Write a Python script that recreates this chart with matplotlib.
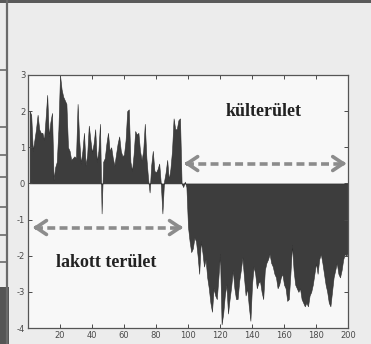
import numpy as np
import matplotlib
matplotlib.use('Agg')
import matplotlib.pyplot as plt
from matplotlib.patches import Rectangle
from matplotlib.lines import Line2D

plt.rcParams['axes.unicode_minus'] = False

# values, one per sample (x = 1..200)
pos_part = [2.0, 1.9, 0.9, 1.2, 1.5, 1.9, 1.5, 1.4, 1.4, 1.2,
            1.8, 2.45, 1.3, 1.7, 1.95, 0.1, 0.45, 0.6, 1.5, 3.0,
            2.6, 2.4, 2.3, 2.2, 1.0, 0.9, 0.65, 0.7, 0.75, 0.7,
            2.2, 1.2, 0.55, 0.9, 1.4, 0.5, 0.8, 1.6, 1.2, 0.85,
            1.1, 1.5, 0.6, 0.9, 1.65, -0.83, 0.6, 0.7, 1.1, 1.4,
            0.9, 1.0, 0.7, 0.5, 0.8, 1.1, 1.3, 0.9, 0.75, 0.8,
            1.2, 2.0, 2.05, 0.6, 0.35, 0.8, 1.45, 1.35, 1.4, 0.9,
            0.65, 0.9, 1.65, 0.7, 0.15, -0.25, 0.5, 0.9, 0.35, 0.3,
            0.4, 0.55, 0.0, -0.83, 0.05, 0.3, 0.65, 0.1, 0.4, 0.9,
            1.8, 1.5, 1.5, 1.75, 1.8, 0.0, -0.1, 0.05, -0.1]
neg_part = [-1.2, -1.6, -1.9, -1.8, -1.5, -1.6, -2.0, -2.5, -1.6, -1.9,
            -2.3, -2.1, -2.6, -2.9, -3.3, -3.55, -2.9, -3.1, -3.2, -2.6,
            -1.95, -3.9, -3.6, -3.1, -2.8, -3.6, -3.2, -2.85, -2.4, -2.9,
            -3.2, -3.2, -2.7, -2.4, -2.05, -2.6, -3.1, -2.9, -3.4, -3.8,
            -2.8, -2.3, -2.5, -2.9, -2.75, -2.7, -3.0, -3.2, -2.4, -2.2,
            -2.1, -1.95, -2.2, -2.3, -2.5, -2.6, -2.9, -2.8, -2.6, -2.5,
            -2.8, -2.9, -3.25, -3.2, -2.5, -1.7, -2.4, -2.8, -2.9, -3.0,
            -2.9, -3.2, -3.3, -3.4, -3.3, -3.4, -3.1, -3.0, -2.8, -2.5,
            -2.2, -2.5, -2.1, -1.95, -2.2, -2.5, -2.8, -3.0, -3.3, -3.4,
            -3.0, -2.6, -2.4, -2.2, -2.5, -2.6, -2.4, -2.1, -1.95, -2.0,
            -1.9]
values = np.array(pos_part + neg_part)
x = np.arange(1, len(values) + 1)

xticks = [20, 40, 60, 80, 100, 120, 140, 160, 180, 200]
yticks = [-4, -3, -2, -1, 0, 1, 2, 3]
label_outer = 'külterület'
label_inner = 'lakott terület'

fig = plt.figure(figsize=(3.71, 3.44), dpi=100, facecolor='#ececec')
ax = fig.add_axes([28 / 371, 16 / 344, 320 / 371, 253 / 344])
ax.set_facecolor('#f8f8f8')

ax.fill_between(x, 0, values, color='#3d3d3d', linewidth=0.4, edgecolor='#2e2e2e')

ax.set_xlim(0, 200)
ax.set_ylim(-4, 3)
ax.set_xticks(xticks)
ax.set_yticks(yticks)
ax.tick_params(direction='in', length=3, width=0.7, top=True, right=True,
               labelsize=6, colors='#4a4a4a', pad=2)
for s in ax.spines.values():
    s.set_color('#555555')
    s.set_linewidth(0.9)

# dashed double arrows: (left tip, right tip, height)
arrow_col = '#8c8c8c'
for x0, x1, yy in [(97.5, 199, 0.55), (3, 97, -1.22)]:
    ax.plot([x0 + 1.5, x1 - 1.5], [yy, yy], ls=(0, (2.2, 1.2)), lw=2.6, color=arrow_col)
    for tip, tail in [(x0, x0 + 3), (x1, x1 - 3)]:
        ax.annotate('', xy=(tip, yy), xytext=(tail, yy),
                    arrowprops=dict(arrowstyle='->,head_length=0.75,head_width=0.5',
                                    lw=2.6, color=arrow_col, shrinkA=0, shrinkB=0))

ax.text(147, 2.0, label_outer, fontsize=13, fontweight='bold',
        family='Liberation Serif', color='#222222', ha='center', va='center')
ax.text(49, -2.19, label_inner, fontsize=13, fontweight='bold',
        family='Liberation Serif', color='#222222', ha='center', va='center')

# scan decorations: dark band on top, page edge and marks on the left
fig.add_artist(Rectangle((0, 1 - 3 / 344), 1, 3 / 344, transform=fig.transFigure,
                         color='#5a5a5a', lw=0))
fig.add_artist(Line2D([7.5 / 371, 7.5 / 371], [0, 1], transform=fig.transFigure,
                      color='#6a6a6a', lw=1.6))
for yp in [70, 127, 155, 177, 207, 235, 262]:
    fig.add_artist(Line2D([0, 7 / 371], [1 - yp / 344] * 2, transform=fig.transFigure,
                          color='#6a6a6a', lw=1.2))
fig.add_artist(Rectangle((0, 0), 8.5 / 371, 57 / 344, transform=fig.transFigure,
                         color='#555555', lw=0))

fig.savefig('out.png', dpi=100, facecolor=fig.get_facecolor())
